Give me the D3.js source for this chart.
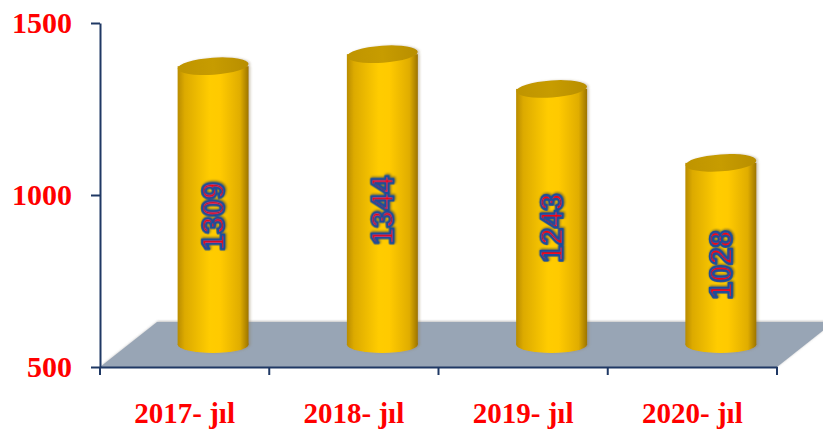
<!DOCTYPE html>
<html>
<head>
<meta charset="utf-8">
<script src="https://cdn.jsdelivr.net/npm/d3@7"></script>
<style>
    html, body { margin: 0; padding: 0; background: #fff; }
    #graph-placeholder { width: 823px; height: 430px; }
</style>
</head>
<body>
<div id="graph-placeholder"></div>
<script>
var categories = ["2017- jıl", "2018- jıl", "2019- jıl", "2020- jıl"],
    values = [1309, 1344, 1243, 1028],
    yTicks = [500, 1000, 1500];

var width = 823,
    height = 430,
    plot = {left: 100, right: 777, top: 23, bottom: 367},
    depth = {dx: 57, dy: -45},
    barWidth = 71,
    capRy = 8.5,
    axisColor = "#1f3864";

var svg = d3.select("#graph-placeholder")
    .append("svg")
    .attr("width", width)
    .attr("height", height);

var defs = svg.append("defs");

var bodyGrad = defs.append("linearGradient")
    .attr("id", "cylBody")
    .attr("x1", 0).attr("x2", 1).attr("y1", 0).attr("y2", 0);
[["0%", "#b98c00"], ["10%", "#dcaa00"], ["45%", "#ffcc00"], ["60%", "#ffca00"], ["88%", "#e0ad00"], ["100%", "#9c7400"]]
    .forEach(function (s) {
        bodyGrad.append("stop").attr("offset", s[0]).attr("stop-color", s[1]);
    });

var topGrad = defs.append("linearGradient")
    .attr("id", "cylTop")
    .attr("x1", 0).attr("x2", 1).attr("y1", 0).attr("y2", 0);
[["0%", "#bf9400"], ["50%", "#c79c00"], ["100%", "#b88e00"]]
    .forEach(function (s) {
        topGrad.append("stop").attr("offset", s[0]).attr("stop-color", s[1]);
    });

defs.append("filter")
    .attr("id", "labelShadow")
    .attr("x", "-30%").attr("y", "-30%").attr("width", "160%").attr("height", "160%")
    .append("feDropShadow")
    .attr("dx", 1).attr("dy", 1)
    .attr("stdDeviation", 1.3)
    .attr("flood-color", "#0a2350")
    .attr("flood-opacity", 0.55);

defs.append("filter")
    .attr("id", "softShadow")
    .attr("x", "-10%").attr("y", "-30%").attr("width", "120%").attr("height", "160%")
    .append("feDropShadow")
    .attr("dx", 1).attr("dy", -1)
    .attr("stdDeviation", 1)
    .attr("flood-color", "#777")
    .attr("flood-opacity", 0.45);

defs.append("filter")
    .attr("id", "barShadow")
    .attr("x", "-20%").attr("y", "-10%").attr("width", "140%").attr("height", "120%")
    .append("feDropShadow")
    .attr("dx", 2).attr("dy", 0)
    .attr("stdDeviation", 1)
    .attr("flood-color", "#8a7a50")
    .attr("flood-opacity", 0.35);

var x = d3.scaleBand()
    .domain(categories)
    .range([plot.left, plot.right])
    .paddingInner(0)
    .paddingOuter(0);

var y = d3.scaleLinear()
    .domain([500, 1500])
    .range([plot.bottom, plot.top]);

// floor
var y0 = y(500);
var floorPts = [
    [x.range()[0], y0],
    [x.range()[1], y0],
    [x.range()[1] + depth.dx, y0 + depth.dy],
    [x.range()[0] + depth.dx, y0 + depth.dy]
];
svg.append("polygon")
    .attr("points", floorPts.map(function (p) { return p.join(","); }).join(" "))
    .attr("fill", "#98a5b5")
    .attr("filter", "url(#softShadow)");

// axes
var yAxis = d3.axisLeft(y)
    .tickValues(yTicks)
    .tickSize(9)
    .tickSizeOuter(0)
    .tickPadding(19)
    .tickFormat(d3.format("d"));

var gy = svg.append("g")
    .attr("class", "yScale axis")
    .attr("transform", "translate(" + plot.left + ",0)")
    .call(yAxis);

var xAxis = d3.axisBottom(x)
    .tickSize(0)
    .tickSizeOuter(0);

var gx = svg.append("g")
    .attr("class", "xScale axis")
    .attr("transform", "translate(0," + plot.bottom + ")")
    .call(xAxis);

gx.selectAll(".tick text")
    .attr("y", 56)
    .attr("dy", 0);

// boundary ticks of the category axis
var bounds = categories.map(function (c) { return x(c); }).concat([x.range()[1]]);
gx.selectAll(".boundTick")
    .data(bounds)
    .enter()
    .append("line")
    .attr("class", "boundTick")
    .attr("x1", function (d) { return d; })
    .attr("x2", function (d) { return d; })
    .attr("y1", 0)
    .attr("y2", 8);

svg.selectAll(".axis path, .axis line")
    .attr("stroke", axisColor)
    .attr("stroke-width", 2);
svg.selectAll(".axis text")
    .attr("fill", "#ff0000")
    .style("font-family", "'Liberation Serif', 'Times New Roman', serif")
    .style("font-weight", "bold")
    .style("font-size", "29px");
gy.selectAll("text").style("font-size", "30px");

// cylinders
var half = {dx: depth.dx / 2, dy: depth.dy / 2};
var cx = function (d, i) { return x(categories[i]) + x.bandwidth() / 2 + half.dx; };
var topY = function (d) { return y(d) + half.dy; };
var baseY = y(500) + half.dy;

var bars = svg.selectAll(".cyl")
    .data(values)
    .enter()
    .append("g")
    .attr("class", "cyl")
    .attr("filter", "url(#barShadow)");

bars.append("ellipse")
    .attr("cx", cx)
    .attr("cy", baseY)
    .attr("rx", barWidth / 2)
    .attr("ry", capRy)
    .attr("fill", "url(#cylBody)");

bars.append("rect")
    .attr("x", function (d, i) { return cx(d, i) - barWidth / 2; })
    .attr("y", topY)
    .attr("width", barWidth)
    .attr("height", function (d) { return baseY - topY(d); })
    .attr("fill", "url(#cylBody)");

bars.append("ellipse")
    .attr("cx", cx)
    .attr("cy", topY)
    .attr("rx", barWidth / 2)
    .attr("ry", capRy)
    .attr("transform", function (d, i) { return "rotate(-4," + cx(d, i) + "," + topY(d) + ")"; })
    .attr("fill", "url(#cylTop)");

// value labels
svg.selectAll(".valLabel")
    .data(values)
    .enter()
    .append("text")
    .attr("class", "valLabel")
    .attr("transform", function (d, i) {
        var ly = (topY(d) + plot.bottom) / 2;
        return "translate(" + cx(d, i) + "," + ly + ") rotate(-90)";
    })
    .attr("text-anchor", "middle")
    .attr("dy", "0.36em")
    .attr("fill", "#ff0000")
    .attr("stroke", "#1f4e9a")
    .attr("stroke-width", 2.6)
    .attr("stroke-linejoin", "round")
    .attr("filter", "url(#labelShadow)")
    .style("font-family", "'Liberation Sans', Arial, sans-serif")
    .style("font-weight", "bold")
    .style("font-size", "31px")
    .text(function (d) { return d; });
</script>
</body>
</html>
